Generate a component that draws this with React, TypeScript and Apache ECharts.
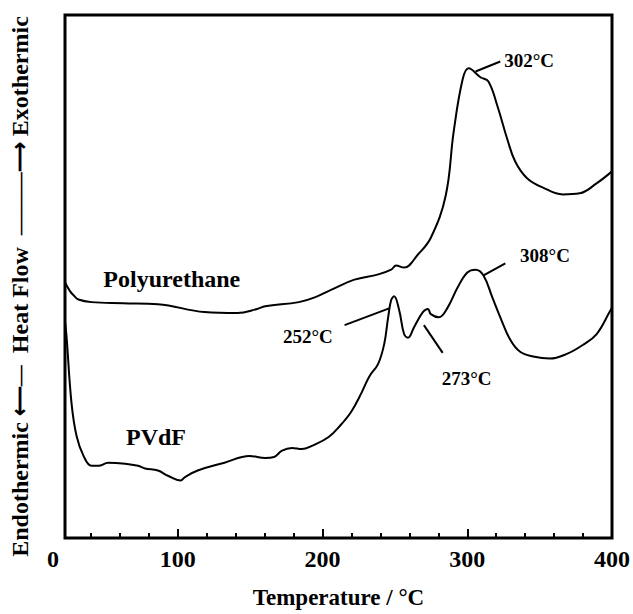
import React, { useEffect, useRef } from "react";
import * as echarts from "echarts";

// ---- data ----
const puTemp = [22, 25.2, 27.9, 31.3, 40.3, 62.2, 86.2, 118.4, 141.1, 154.8, 160.3, 183.6, 194.6, 206.2, 222.0, 238.5, 247.4, 250.8, 256.3, 265.9, 274.8, 285.1, 290.6, 296.8, 300.9, 309.1, 314.6, 320.8, 327.6, 333.1, 341.3, 352.3, 366.0, 377.7, 389.3, 400];
const puHeat = [48.9, 47.3, 46.4, 45.6, 45.1, 44.9, 44.7, 43.2, 43.0, 43.8, 44.3, 45.1, 46.0, 47.5, 49.4, 50.4, 51.3, 52.1, 51.7, 54.2, 57.4, 65.5, 77.7, 87.7, 89.8, 88.1, 87.3, 82.6, 76.3, 72.0, 68.8, 67.0, 65.7, 65.9, 67.8, 70.1];

const pvdfTemp = [22.2, 23.1, 26.5, 30.0, 34.8, 40.3, 45.1, 51.9, 63.6, 72.5, 77.3, 86.2, 93.1, 102.0, 104.7, 113.7, 132.2, 149.5, 160.3, 166.5, 172.0, 178.8, 185.7, 192.5, 204.2, 213.1, 219.9, 226.8, 232.3, 238.4, 242.6, 245.3, 247.4, 249.4, 252.9, 256.3, 259.0, 263.2, 269.3, 272.8, 274.8, 280.3, 286.5, 293.3, 300.2, 305.7, 311.2, 317.3, 322.8, 329.7, 336.5, 345.5, 357.1, 368.8, 379.8, 389.4, 398.3, 400];
const pvdfHeat = [41.0, 38.4, 25.8, 19.5, 15.7, 13.8, 13.8, 14.4, 14.2, 13.8, 13.3, 12.9, 11.9, 11.0, 11.6, 12.9, 14.4, 15.7, 15.3, 15.5, 16.7, 17.2, 17.0, 17.6, 19.3, 21.8, 24.2, 27.7, 30.9, 33.3, 37.1, 42.2, 45.5, 46.2, 43.6, 39.0, 38.3, 40.3, 43.2, 43.8, 42.8, 42.2, 44.1, 47.9, 50.8, 51.3, 50.2, 46.0, 42.2, 37.9, 35.6, 34.7, 34.3, 35.2, 36.9, 39.0, 43.2, 44.1];

const xMin = 22;
const xMax = 400;
const xLabelValues = [xMin, 100, 200, 300, 400];
const majorTicks = [100, 200, 300, 400];
const minorTicks = [40, 60, 80, 120, 140, 160, 180, 220, 240, 260, 280, 320, 340, 360, 380];

// curve names
const seriesNames = ["Polyurethane", "PVdF"];
const seriesLabelT = [95.8, 84.9];
const seriesLabelV = [49.6, 19.3];

// peak annotations: text, text position, leader start/end
const annText = ["302°C", "308°C", "252°C", "273°C"];
const annT = [342.7, 353.7, 189.8, 299.5];
const annV = [91.3, 54.0, 38.6, 30.5];
const leadT0 = [305.7, 311.2, 215.2, 270.0];
const leadV0 = [89.2, 50.2, 40.7, 40.7];
const leadT1 = [322.8, 326.3, 246.0, 283.0];
const leadV1 = [91.1, 52.5, 43.9, 35.4];

const FONT = "'Liberation Serif', 'Times New Roman', serif";

export default function App() {
  const ref = useRef<HTMLDivElement>(null);

  useEffect(() => {
    if (!ref.current) return;
    const chart = echarts.init(ref.current, null, { renderer: "svg" });

    const zip = (a: number[], b: number[]) => a.map((v, i) => [v, b[i]]);

    const textPoints = [
      ...seriesNames.map((n, i) => ({ name: n, value: [seriesLabelT[i], seriesLabelV[i]], fs: 24 })),
      ...annText.map((n, i) => ({ name: n, value: [annT[i], annV[i]], fs: 19 })),
    ];

    chart.setOption({
      animation: false,
      backgroundColor: "#fff",
      grid: {
        left: 61.5,
        right: 20.5,
        top: 15,
        bottom: 71,
        show: true,
        borderColor: "#000",
        borderWidth: 3,
        backgroundColor: "transparent",
      },
      xAxis: [
        {
          type: "value",
          min: xMin,
          max: xMax,
          axisLine: { show: false },
          splitLine: { show: false },
          axisTick: {
            show: true,
            inside: true,
            length: 9,
            customValues: majorTicks,
            lineStyle: { color: "#000", width: 2 },
          },
          axisLabel: {
            customValues: xLabelValues,
            showMinLabel: true,
            showMaxLabel: true,
            alignMinLabel: "right",
            margin: 9,
            color: "#000",
            fontFamily: FONT,
            fontWeight: "bold",
            fontSize: 24,
            formatter: (v: number) => (v === xMin ? "{z|0}" : String(v)),
            rich: {
              z: {
                fontFamily: FONT,
                fontWeight: "bold",
                fontSize: 24,
                color: "#000",
                padding: [0, 6, 0, 0],
              },
            },
          },
          name: "Temperature / °C",
          nameLocation: "middle",
          nameGap: 48,
          nameTextStyle: {
            color: "#000",
            fontFamily: FONT,
            fontWeight: "bold",
            fontSize: 23,
          },
        },
        {
          type: "value",
          min: xMin,
          max: xMax,
          position: "bottom",
          axisLine: { show: false },
          splitLine: { show: false },
          axisLabel: { show: false },
          axisTick: {
            show: true,
            inside: true,
            length: 5,
            customValues: minorTicks,
            lineStyle: { color: "#000", width: 2 },
          },
        },
      ],
      yAxis: {
        type: "value",
        min: 0,
        max: 100,
        axisLine: { show: false },
        axisTick: { show: false },
        axisLabel: { show: false },
        splitLine: { show: false },
        name: "Endothermic {a|⟵—}  Heat Flow  {a|———⟶} Exothermic",
        nameLocation: "middle",
        nameRotate: 90,
        nameGap: 33,
        nameTextStyle: {
          color: "#000",
          fontFamily: FONT,
          fontWeight: "bold",
          fontSize: 24,
          padding: [0, 20, 0, 0],
          rich: {
            a: { fontFamily: FONT, fontSize: 21, color: "#000" },
          },
        },
      },
      series: [
        {
          name: seriesNames[0],
          type: "line",
          data: zip(puTemp, puHeat),
          showSymbol: false,
          smooth: 0.4,
          lineStyle: { color: "#000", width: 2 },
          silent: true,
          markLine: {
            silent: true,
            symbol: ["none", "none"],
            label: { show: false },
            lineStyle: { color: "#000", width: 2, type: "solid" },
            data: annText.map((_, i) => [
              { coord: [leadT0[i], leadV0[i]] },
              { coord: [leadT1[i], leadV1[i]] },
            ]),
          },
        },
        {
          name: seriesNames[1],
          type: "line",
          data: zip(pvdfTemp, pvdfHeat),
          showSymbol: false,
          smooth: 0.4,
          lineStyle: { color: "#000", width: 2 },
          silent: true,
        },
        {
          name: "labels",
          type: "scatter",
          symbolSize: 0,
          silent: true,
          itemStyle: { opacity: 1, color: "#000" },
          data: textPoints.map((p) => ({
            name: p.name,
            value: p.value,
            label: { fontSize: p.fs, color: "#000", opacity: 1 },
          })),
          label: {
            show: true,
            position: "inside",
            formatter: "{b}",
            color: "#000",
            opacity: 1,
            fontFamily: FONT,
            fontWeight: "bold",
          },
        },
      ],
    });

    return () => chart.dispose();
  }, []);

  return (
    <div
      ref={ref}
      style={{ position: "fixed", left: 0, top: 0, width: 633, height: 614 }}
    />
  );
}
